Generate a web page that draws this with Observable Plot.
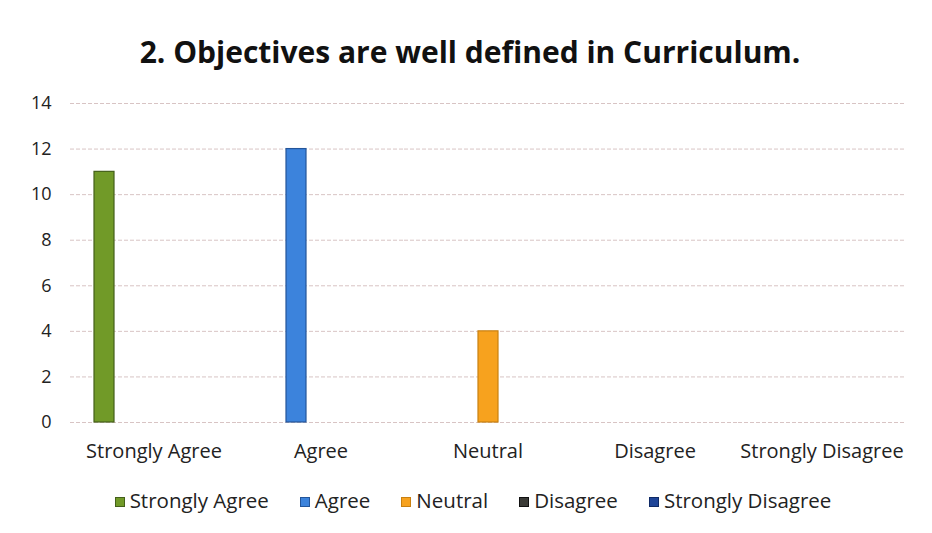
<!DOCTYPE html>
<html><head><meta charset="utf-8">
<script src="https://cdn.jsdelivr.net/npm/d3@7"></script>
<script src="https://cdn.jsdelivr.net/npm/@observablehq/plot@0.6"></script>
<style>
body{margin:0;background:#fff;font-family:"Open Sans",sans-serif;color:#222;}
#wrap{width:932px;height:533px;position:relative;overflow:hidden;background:#fff}
#title{height:85px;line-height:104px;text-align:center;font-size:30px;font-weight:bold;color:#111;padding-left:8px;box-sizing:border-box}
#chart svg{display:block}
#legend{height:30px;display:flex;justify-content:center;align-items:center;gap:31px;font-size:20.5px;color:#222;padding-left:14px}
#legend span.sw{display:inline-block;width:10px;height:10px;margin-right:5px;border:1px solid #333;box-sizing:border-box;vertical-align:middle;position:relative;top:-1px}
</style></head>
<body><div id="wrap"><div id="title"></div><div id="chart"></div><div id="legend"></div></div>
<script>
const titleText = "2. Objectives are well defined in Curriculum.";
const categories = ["Strongly Agree", "Agree", "Neutral", "Disagree", "Strongly Disagree"];
const counts = [11, 12, 4, 0, 0];
const fills = ["#719a28", "#3c83dc", "#f7a21e", "#3a3a36", "#1f4598"];
const strokes = ["#44601a", "#23559a", "#c98010", "#111111", "#0f2a66"];
const yTicks = [0, 2, 4, 6, 8, 10, 12, 14];

document.getElementById("title").textContent = titleText;

const rows = categories.map((c, i) => ({category: c, series: c, value: counts[i], fill: fills[i], stroke: strokes[i]}));

const chart = Plot.plot({
  width: 932, height: 400,
  marginTop: 18, marginBottom: 63, marginLeft: 68, marginRight: 26,
  style: {fontFamily: "'Open Sans', sans-serif", fontSize: "18px", color: "#222", background: "#fff"},
  fx: {domain: categories, padding: 0, label: null, axis: null},
  x: {domain: categories, axis: null, paddingInner: 0.22, paddingOuter: 0.88},
  y: {domain: [0, 14], label: null, axis: null},
  color: {type: "identity"},
  marks: [
    Plot.gridY(yTicks, {stroke: "#d8c4c4", strokeOpacity: 1, strokeDasharray: "4,2"}),
    Plot.axisY(yTicks, {tickSize: 0, tickPadding: 19, label: null, fontSize: 18}),
    Plot.axisFx({anchor: "bottom", tickSize: 0, tickPadding: 21, label: null, fontSize: 20}),
    Plot.barY(rows, {fx: "category", x: "series", y: "value", fill: d => d.fill, stroke: d => d.value > 0 ? d.stroke : "none", strokeWidth: 1.2})
  ]
});
document.getElementById("chart").appendChild(chart);

const legend = document.getElementById("legend");
categories.forEach((c, i) => {
  const item = document.createElement("span");
  const sw = document.createElement("span");
  sw.className = "sw";
  sw.style.background = fills[i];
  sw.style.borderColor = strokes[i];
  item.appendChild(sw);
  item.appendChild(document.createTextNode(c));
  legend.appendChild(item);
});
</script>
</body></html>
